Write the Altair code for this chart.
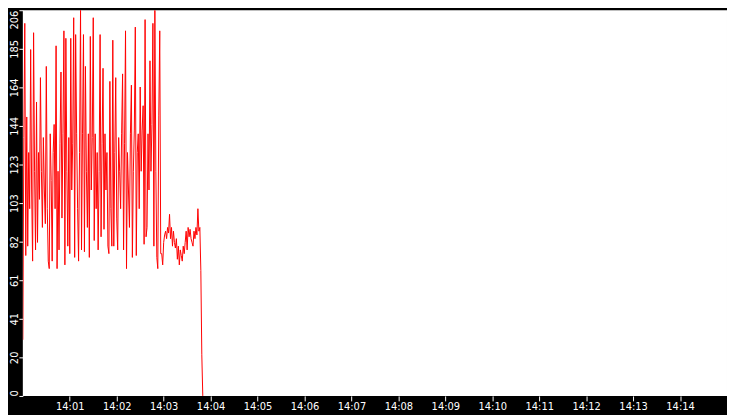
import altair as alt
import pandas as pd

# sampled values (one sample every 1.25 s starting 14:00:00)
values = [
    30, 138, 199, 75, 149, 80, 130, 100, 185, 110,
    72, 194, 120, 78, 157, 82, 130, 105, 170, 120,
    90, 138, 110, 92, 176, 100, 72, 68, 140, 115,
    72, 130, 145, 100, 187, 68, 120, 78, 135, 173,
    95, 140, 195, 70, 191, 120, 80, 138, 76, 191,
    110, 135, 202, 74, 193, 140, 100, 72, 130, 206,
    78, 140, 193, 77, 176, 120, 90, 140, 74, 192,
    110, 138, 202, 83, 140, 100, 130, 78, 120, 193,
    85, 135, 175, 89, 140, 110, 130, 80, 76, 168,
    100, 80, 190, 80, 130, 170, 95, 78, 138, 120,
    100, 140, 172, 78, 135, 195, 68, 130, 110, 90,
    140, 166, 74, 120, 142, 197, 75, 130, 140, 100,
    165, 120, 142, 155, 81, 201, 85, 90, 140, 110,
    179, 120, 145, 199, 80, 206, 120, 74, 68, 150,
    195, 76, 76, 70, 82, 86, 88, 84, 90, 87,
    97, 84, 90, 80, 88, 82, 79, 84, 73, 80,
    70, 78, 75, 72, 80, 76, 82, 88, 78, 90,
    85, 89, 84, 82, 80, 88, 84, 90, 86, 100,
    88, 90, 67, 22, 0,
]
start_time = "2024-01-01 14:00:00"
sample_step = "1250ms"
x_tick_minutes = [1, 2, 3, 4, 5, 6, 7, 8, 9, 10, 11, 12, 13, 14]
y_tick_values = [0, 20.6, 41.2, 61.8, 82.4, 103, 123.6, 144.2, 164.8, 185.4, 206]
y_max = 206

times = pd.date_range(start=start_time, periods=len(values), freq=sample_step)
df = pd.DataFrame({
    "time": [t.strftime("%Y-%m-%dT%H:%M:%S.") + f"{t.microsecond // 1000:03d}" for t in times],
    "value": values,
})


def dt(m):
    return alt.DateTime(year=2024, month=1, date=1, hours=14, minutes=m)


font = "DejaVu Sans"

chart = (
    alt.Chart(df)
    .mark_line(color="#ff0000", strokeWidth=1, clip=True)
    .encode(
        x=alt.X(
            "time:T",
            scale=alt.Scale(domain=[dt(0), dt(15)]),
            axis=alt.Axis(
                values=[dt(m) for m in x_tick_minutes],
                format="%H:%M",
                title=None,
                grid=False,
                domain=False,
                tickColor="white",
                tickSize=5,
                labelColor="white",
                labelPadding=1,
                labelFont=font,
                labelFontSize=10,
                labelOverlap=False,
            ),
        ),
        y=alt.Y(
            "value:Q",
            scale=alt.Scale(domain=[0, y_max], nice=False, zero=True),
            axis=alt.Axis(
                values=y_tick_values,
                labelExpr="floor(datum.value)",
                title=None,
                grid=False,
                domain=False,
                tickColor="white",
                tickSize=4,
                labelColor="white",
                labelPadding=1,
                labelFont=font,
                labelFontSize=10,
                labelAngle=270,
                labelAlign={
                    "expr": f"datum.value >= {y_max} ? 'right' : (datum.value <= 0 ? 'left' : 'center')"
                },
                labelBaseline="alphabetic",
                labelOverlap=False,
            ),
        ),
    )
    .properties(
        width=712,
        height=390,
        autosize=alt.AutoSizeParams(type="none"),
        background="black",
        padding={"left": 15, "top": 0, "right": 0, "bottom": 17},
    )
    .configure_view(fill="white", strokeWidth=0)
)

chart.save("out.html", embed_options={"renderer": "svg", "actions": False})
